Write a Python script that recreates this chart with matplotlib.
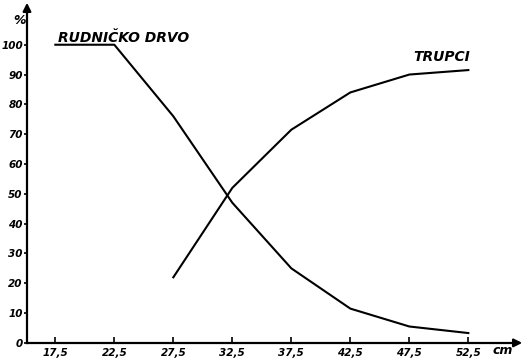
import matplotlib
matplotlib.use("Agg")
import matplotlib.pyplot as plt

# promjer (cm) i udio (%)
promjer = [17.5, 22.5, 27.5, 32.5, 37.5, 42.5, 47.5, 52.5]
x_labels = ["17,5", "22,5", "27,5", "32,5", "37,5", "42,5", "47,5", "52,5"]

rud_x = [17.5, 22.5, 27.5, 32.5, 37.5, 42.5, 47.5, 52.5]
rud_y = [100, 100, 76, 47, 25, 11.5, 5.5, 3.3]

trup_x = [27.5, 32.5, 37.5, 42.5, 47.5, 52.5]
trup_y = [22, 52, 71.5, 84, 90, 91.5]

y_ticks = [0, 10, 20, 30, 40, 50, 60, 70, 80, 90, 100]

fig = plt.figure(figsize=(5.25, 3.59), dpi=100)
ax = fig.add_axes([27 / 525, 0, 1 - 27 / 525, 1])
ax.set_xlim(15.1, 57.3)
ax.set_ylim(-5.4, 115)

for s in ["top", "right"]:
    ax.spines[s].set_visible(False)
ax.spines["bottom"].set_position(("data", 0))
ax.spines["left"].set_bounds(0, 112)
ax.spines["bottom"].set_bounds(15.1, 56.5)
ax.spines["left"].set_linewidth(1.6)
ax.spines["bottom"].set_linewidth(1.6)

# strelice na osima
ax.annotate("", xy=(15.1, 115), xytext=(15.1, 110),
            arrowprops=dict(arrowstyle="-|>", color="k", lw=1.6,
                            mutation_scale=12), annotation_clip=False)
ax.annotate("", xy=(57.3, 0), xytext=(56, 0),
            arrowprops=dict(arrowstyle="-|>", color="k", lw=1.6,
                            mutation_scale=12), annotation_clip=False)

ax.plot(rud_x, rud_y, color="k", lw=1.5)
ax.plot(trup_x, trup_y, color="k", lw=1.5)

font = dict(style="italic", weight="bold", family="DejaVu Sans")
ax.set_xticks(promjer)
ax.set_xticklabels(x_labels, fontsize=7.5, **font)
ax.set_yticks(y_ticks)
ax.set_yticklabels([str(v) for v in y_ticks], fontsize=7.5, **font)
ax.tick_params(axis="x", direction="in", length=4, width=1.2, pad=4)
ax.tick_params(axis="y", direction="out", length=2, width=1.2, pad=1)

ax.text(-0.003, 108, "%", transform=ax.get_yaxis_transform(),
        ha="right", va="center", fontsize=9, **font)
ax.text(55.4, -2.6, "cm", ha="center", va="center", fontsize=9, **font)

ax.text(17.7, 102.3, "RUDNIČKO DRVO", ha="left", va="center", fontsize=10, **font)
ax.text(47.8, 96, "TRUPCI", ha="left", va="center", fontsize=10, **font)

fig.savefig("out.png", dpi=100)
